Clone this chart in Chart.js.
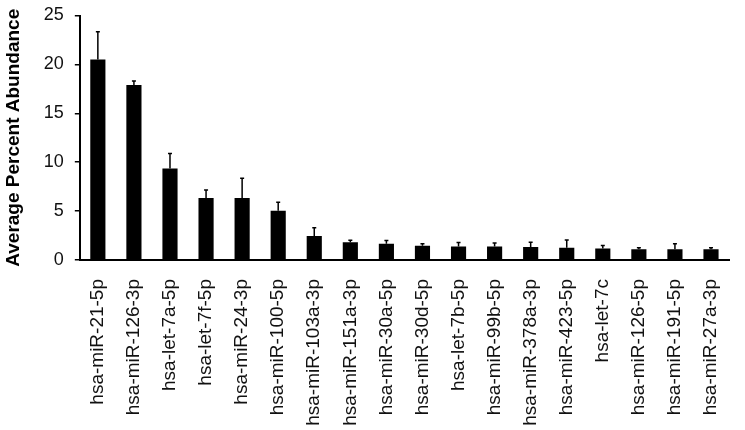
<!DOCTYPE html>
<html>
<head>
<meta charset="utf-8">
<script src="https://cdn.jsdelivr.net/npm/chart.js@4"></script>
<style>
  html, body { margin: 0; padding: 0; background: #fff; }
  #wrap { width: 745px; height: 430px; }
</style>
</head>
<body>
<div id="wrap"><canvas id="abundance_chart" width="745" height="430"></canvas></div>
<script>
var mirnaLabels = [
    'hsa-miR-21-5p', 'hsa-miR-126-3p', 'hsa-let-7a-5p', 'hsa-let-7f-5p',
    'hsa-miR-24-3p', 'hsa-miR-100-5p', 'hsa-miR-103a-3p', 'hsa-miR-151a-3p',
    'hsa-miR-30a-5p', 'hsa-miR-30d-5p', 'hsa-let-7b-5p', 'hsa-miR-99b-5p',
    'hsa-miR-378a-3p', 'hsa-miR-423-5p', 'hsa-let-7c', 'hsa-miR-126-5p',
    'hsa-miR-191-5p', 'hsa-miR-27a-3p'
];
var meanAbundance = [20.5, 17.9, 9.35, 6.35, 6.35, 5.03, 2.46, 1.82, 1.65, 1.45,
    1.39, 1.39, 1.32, 1.25, 1.18, 1.11, 1.11, 1.11];
var errAbundance = [2.85, 0.4, 1.55, 0.8, 2.0, 0.87, 0.85, 0.2, 0.34, 0.2,
    0.4, 0.36, 0.5, 0.8, 0.31, 0.14, 0.54, 0.14];
var yTicks = [0, 5, 10, 15, 20, 25];

// upper error bars, placed through the chart's own scales
var errorBarPlugin = {
    id: 'errorBars',
    afterDatasetsDraw: function(chart) {
        var ctx = chart.ctx;
        var yScale = chart.scales.y;
        var meta = chart.getDatasetMeta(0);
        ctx.save();
        ctx.strokeStyle = '#000';
        ctx.lineWidth = 1.5;
        meta.data.forEach(function(bar, i) {
            var yTop = yScale.getPixelForValue(meanAbundance[i] + errAbundance[i]);
            ctx.beginPath();
            ctx.moveTo(bar.x, bar.y);
            ctx.lineTo(bar.x, yTop);
            ctx.moveTo(bar.x - 2, yTop);
            ctx.lineTo(bar.x + 2, yTop);
            ctx.stroke();
        });
        ctx.restore();
    }
};

var ctx = document.getElementById('abundance_chart').getContext('2d');
var abundance_chart = new Chart(ctx, {
    type: 'bar',
    data: {
        labels: mirnaLabels,
        datasets: [{
            label: 'Average Percent Abundance',
            data: meanAbundance,
            backgroundColor: '#000',
            borderWidth: 0,
            barPercentage: 0.42,
            categoryPercentage: 1
        }]
    },
    options: {
        responsive: false,
        animation: false,
        layout: { padding: { left: 2, right: 7, top: 9, bottom: 0 } },
        plugins: {
            legend: { display: false },
            tooltip: { enabled: false }
        },
        scales: {
            x: {
                grid: { display: false },
                border: { display: true, color: '#000', width: 2 },
                afterFit: function(axis) {
                    axis.height = 170;
                },
                ticks: {
                    autoSkip: false,
                    minRotation: 90,
                    maxRotation: 90,
                    padding: 11,
                    color: '#111',
                    font: { family: 'Liberation Sans, Arial, sans-serif', size: 19 }
                }
            },
            y: {
                min: 0,
                max: 25,
                afterBuildTicks: function(axis) {
                    axis.ticks = yTicks.map(function(v) { return { value: v }; });
                },
                grid: { drawOnChartArea: false, drawTicks: true, tickLength: 5, color: '#000', lineWidth: 1.5 },
                border: { display: true, color: '#000', width: 2 },
                ticks: {
                    padding: 11,
                    color: '#111',
                    font: { family: 'Liberation Sans, Arial, sans-serif', size: 18, lineHeight: 0.5 }
                },
                title: {
                    display: true,
                    text: 'Average Percent Abundance',
                    color: '#000',
                    padding: { top: 0, bottom: 8 },
                    font: { family: 'Liberation Sans, Arial, sans-serif', size: 19, weight: 'bold' }
                }
            }
        }
    },
    plugins: [errorBarPlugin]
});
</script>
</body>
</html>
